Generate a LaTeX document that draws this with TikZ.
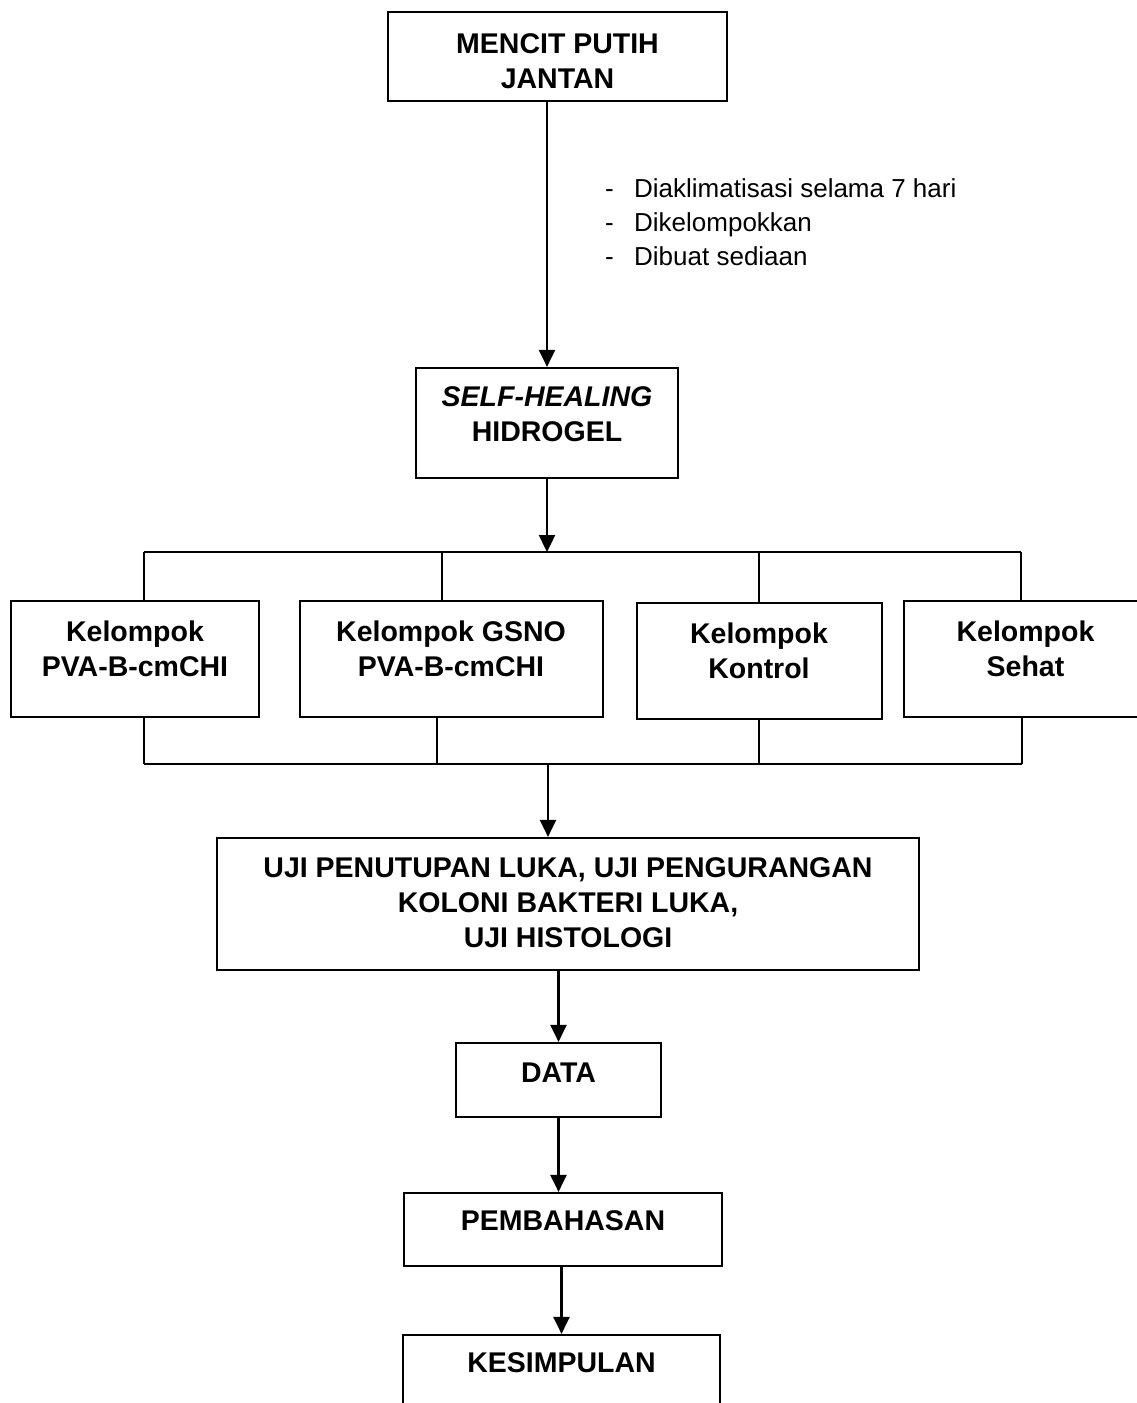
\documentclass[tikz,border=0pt]{standalone}
\usepackage{fontspec}
\setmainfont{Liberation Sans}
\usetikzlibrary{arrows.meta}
\begin{document}
\begin{tikzpicture}[x=1pt,y=-1pt,
  box/.style={draw=black,line width=2.2pt,rectangle,inner sep=0pt},
  txt/.style={align=center,inner sep=0pt,font=\fontsize{28.5}{35}\selectfont\bfseries},
  note/.style={align=left,inner sep=0pt,anchor=west,font=\fontsize{26}{34}\selectfont},
  arr/.style={line width=2.4pt,-{Triangle[width=16pt,length=17pt]}},
  brk/.style={line width=1.8pt}]
\useasboundingbox (0,0) rectangle (1136,1403);
% boxes
\node[box,minimum width=339pt,minimum height=89pt] (m) at (557.5,56.5) {};
\node[box,minimum width=262pt,minimum height=110pt] (s) at (547,423) {};
\node[box,minimum width=248pt,minimum height=116pt] (A) at (135,659) {};
\node[box,minimum width=303pt,minimum height=116pt] (B) at (451.5,659) {};
\node[box,minimum width=245pt,minimum height=116pt] (C) at (759.5,661) {};
\node[box,minimum width=241pt,minimum height=116pt] (D) at (1024.5,659) {};
\node[box,minimum width=702pt,minimum height=132pt] (U) at (568,904) {};
\node[box,minimum width=205pt,minimum height=74pt] (Dt) at (558.5,1080) {};
\node[box,minimum width=318pt,minimum height=73pt] (P) at (563,1229.5) {};
\node[box,minimum width=317pt,minimum height=95pt] (K) at (561.5,1382.5) {};
% texts
\node[txt] (tm) at (557.5,61.5) {MENCIT PUTIH\\JANTAN};
\node[txt] (ts) at (547,414.5) {\textit{SELF-HEALING}\\HIDROGEL};
\node[txt] (tA) at (135,648.5) {Kelompok\\PVA-B-cmCHI};
\node[txt] (tB) at (451,648.5) {Kelompok GSNO\\PVA-B-cmCHI};
\node[txt] (tC) at (759,651) {Kelompok\\Kontrol};
\node[txt] (tD) at (1025.5,648.5) {Kelompok\\Sehat};
\node[txt] (tU) at (568,902.5) {UJI PENUTUPAN LUKA, UJI PENGURANGAN\\KOLONI BAKTERI LUKA,\\UJI HISTOLOGI};
\node[txt] (tDt) at (558.5,1073) {DATA};
\node[txt] (tP) at (563,1221) {PEMBAHASAN};
\node[txt] (tK) at (561.5,1363) {KESIMPULAN};
\node[note] (lab) at (605,222) {\makebox[29pt][l]{-}Diaklimatisasi selama 7 hari\\
\makebox[29pt][l]{-}Dikelompokkan\\
\makebox[29pt][l]{-}Dibuat sediaan};
% connectors
\draw[arr] (m.south -| s.north) -- (s.north);
\coordinate (jt) at (547,552);
\draw[arr] (s.south) -- (jt);
\coordinate (ta) at (144,552);
\coordinate (tb) at (442,552);
\coordinate (tc) at (759,552);
\coordinate (td) at (1021,552);
\draw[brk] (ta) -- (td);
\draw[brk] (ta) -- (ta |- A.north);
\draw[brk] (tb) -- (tb |- B.north);
\draw[brk] (tc) -- (tc |- C.north);
\draw[brk] (td) -- (td |- D.north);
\coordinate (ba) at (144,764);
\coordinate (bb) at (437,764);
\coordinate (bc) at (759,764);
\coordinate (bd) at (1022,764);
\coordinate (jb) at (548,764);
\draw[brk] (ba) -- (bd);
\draw[brk] (ba |- A.south) -- (ba);
\draw[brk] (bb |- B.south) -- (bb);
\draw[brk] (bc |- C.south) -- (bc);
\draw[brk] (bd |- D.south) -- (bd);
\draw[arr] (jb) -- (jb |- U.north);
\draw[arr] (Dt.north |- U.south) -- (Dt.north);
\draw[arr] (Dt.south) -- (Dt.south |- P.north);
\draw[arr] (K.north |- P.south) -- (K.north);
\end{tikzpicture}
\end{document}
